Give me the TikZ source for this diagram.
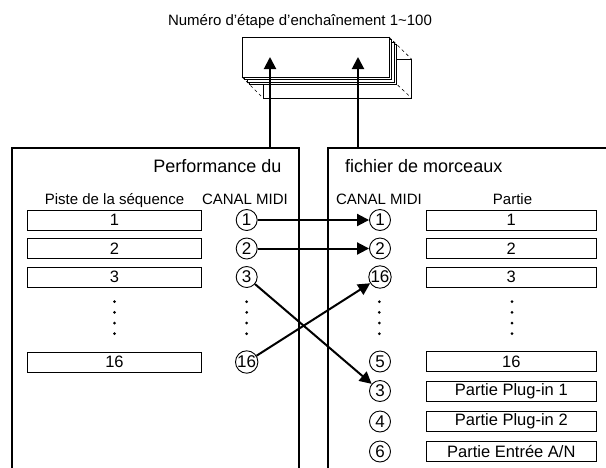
\documentclass[tikz,border=0pt]{standalone}
\usepackage{fontspec}
\setmainfont{Liberation Sans}
\usepackage{tikz}
\usetikzlibrary{positioning, arrows.meta}

\begin{document}
\begin{tikzpicture}[x=1pt, y=-1pt, >={Triangle[length=12pt,width=12pt]},
    piste/.style={draw, line width=0.9pt, minimum width=174pt, minimum height=20pt,
      inner sep=0pt, font=\fontsize{16.5}{18}\selectfont},
    partie/.style={piste, minimum width=170.5pt},
    canal/.style={draw, circle, line width=0.9pt, minimum size=21pt, inner sep=0pt,
      font=\fontsize{17}{18}\selectfont},
    entete/.style={anchor=base, font=\fontsize{15}{18}\selectfont},
    cadre/.style={line width=2.4pt},
    fleche/.style={->, line width=2pt},
    feuille/.style={draw, fill=white, line width=0.7pt}]
  \useasboundingbox (0,0) rectangle (606,467);

  % pile des etapes d'enchainement
  \node[entete] (titre) at (300,25) {Numéro d’étape d’enchaînement 1\textasciitilde100};
  \draw[feuille] (263,59) rectangle (411.5,98);
  \draw[dashed, line width=0.6pt] (242,77) -- (263,98);
  \draw[dashed, line width=0.6pt] (389,37) -- (411.5,59);
  \draw[dashed, line width=0.6pt] (389,77) -- (411.5,98);
  \draw[feuille] (249.5,44.5) rectangle (396.5,84.5);
  \draw[feuille] (247,42) rectangle (394,82);
  \draw[feuille] (244.5,39.5) rectangle (391.5,79.5);
  \node[feuille, minimum width=147pt, minimum height=40pt, inner sep=0pt] (etape) at (315.5,57) {};

  % cadres
  \draw[cadre] (12,475) |- (299,148) -- (299,475);
  \draw[cadre] (328,475) |- (615,148);
  \coordinate (gbas) at (270,148);
  \coordinate (ghaut) at (270,57);
  \coordinate (dbas) at (358,148);
  \coordinate (dhaut) at (358,57);
  \draw[fleche] (gbas) -- (ghaut);
  \draw[fleche] (dbas) -- (dhaut);

  \node[anchor=base east, font=\fontsize{18}{20}\selectfont] (perf) at (285,172.3) {Performance du};
  \node[anchor=base west, font=\fontsize{18}{20}\selectfont] (fich) at (341.7,172.3) {fichier de morceaux};

  \node[entete] (hpiste) at (114.5,204) {Piste de la séquence};
  \node[entete] (hcanalg) at (245,204) {CANAL MIDI};
  \node[entete] (hcanald) at (379,204) {CANAL MIDI};
  \node[entete] (hpartie) at (512.5,204) {Partie};

  % sequence
  \node[piste] (p1) at (114.5,220) {1};
  \node[piste] (p2) at (114.5,248.5) {2};
  \node[piste] (p3) at (114.5,277) {3};
  \node[piste] (p16) at (114.5,362) {16};
  \node[canal] (c1) at (246.7,220) {1};
  \node[canal] (c2) at (246.7,248.5) {2};
  \node[canal] (c3) at (246.7,277) {3};
  \node[canal] (c16) at (246.7,362) {16};

  % morceau
  \node[canal] (r1) at (380,220) {1};
  \node[canal] (r2) at (380,248.5) {2};
  \node[canal] (r16) at (380,277) {16};
  \node[canal] (r5) at (380,361.5) {5};
  \node[canal] (r3) at (380,391) {3};
  \node[canal] (r4) at (380,421.5) {4};
  \node[canal] (r6) at (380,451.5) {6};
  \node[partie] (q1) at (511.3,220) {1};
  \node[partie] (q2) at (511.3,248.5) {2};
  \node[partie] (q3) at (511.3,277) {3};
  \node[partie] (q16) at (511.3,361.5) {16};
  \node[partie] (qp1) at (511.3,391) {Partie Plug-in 1};
  \node[partie] (qp2) at (511.3,421.7) {Partie Plug-in 2};
  \node[partie] (qan) at (511.3,451.7) {Partie Entrée A/N};

  \foreach \x in {114.5,246.7,379.3,512}
    \foreach \y in {301.7,312.3,323,333.7}
      \fill (\x,\y) circle (1.5pt);

  \draw[fleche] (c1) -- (r1);
  \draw[fleche] (c2) -- (r2);
  \draw[fleche] (c3) -- (r3);
  \draw[fleche] (c16) -- (r16);
\end{tikzpicture}
\end{document}
